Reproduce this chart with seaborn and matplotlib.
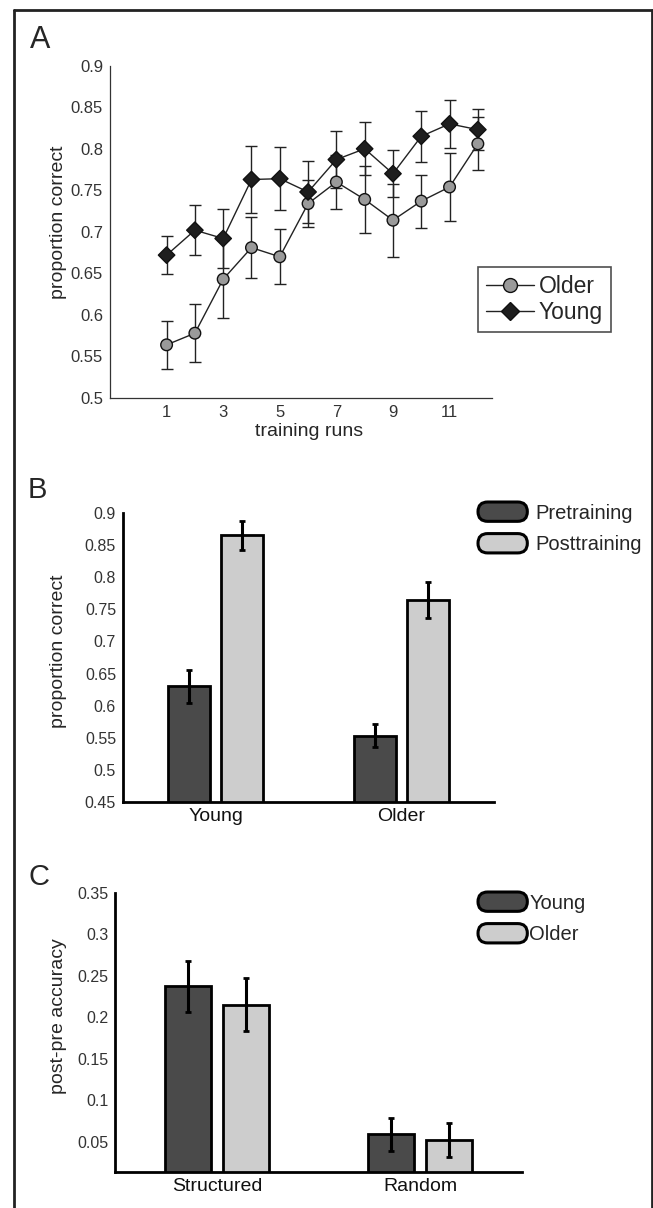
import matplotlib
matplotlib.use("Agg")
import matplotlib.pyplot as plt
import pandas as pd
import seaborn as sns
from matplotlib.lines import Line2D
from matplotlib.patches import Patch, FancyBboxPatch
from matplotlib.legend_handler import HandlerPatch
from matplotlib.ticker import FormatStrFormatter

# Panel A data: proportion correct per training run
runs = [1, 2, 3, 4, 5, 6, 7, 8, 9, 10, 11, 12]
older_mean = [0.564, 0.578, 0.643, 0.681, 0.670, 0.734, 0.760, 0.739, 0.714, 0.737, 0.754, 0.806]
older_err = [0.029, 0.035, 0.047, 0.037, 0.033, 0.028, 0.032, 0.040, 0.044, 0.032, 0.041, 0.032]
young_mean = [0.672, 0.702, 0.692, 0.763, 0.764, 0.748, 0.787, 0.800, 0.770, 0.815, 0.830, 0.823]
young_err = [0.023, 0.030, 0.036, 0.040, 0.038, 0.037, 0.034, 0.032, 0.028, 0.031, 0.029, 0.025]

# Panel B data: pre vs post training
groups_b = ["Young", "Older"]
pre_mean = [0.630, 0.553]
pre_err = [0.026, 0.018]
post_mean = [0.865, 0.764]
post_err = [0.022, 0.028]

# Panel C data: post-pre accuracy
groups_c = ["Structured", "Random"]
young_gain = [0.237, 0.059]
young_gain_err = [0.031, 0.020]
older_gain = [0.215, 0.052]
older_gain_err = [0.032, 0.020]

DARK = "#4a4a4a"
LIGHT = "#cdcdcd"

sns.set_style("white")
plt.rcParams["font.family"] = ["Liberation Sans", "DejaVu Sans"]

W, H = 653, 1208
fig = plt.figure(figsize=(W / 100, H / 100), dpi=100)


def rect(l, t, r, b):
    return [l / W, 1 - b / H, (r - l) / W, (b - t) / H]


def rounded(legend, orig_handle, xdescent, ydescent, width, height, fontsize):
    return FancyBboxPatch((-xdescent, -ydescent), width, height,
                          boxstyle="round,pad=0,rounding_size=%f" % (height / 2))


# ---------------- Panel A ----------------
axA = fig.add_axes(rect(110, 65.7, 492, 398))
df_a = pd.DataFrame({
    "run": runs * 2,
    "value": older_mean + young_mean,
    "group": ["Older"] * 12 + ["Young"] * 12,
})
axA.errorbar(runs, older_mean, yerr=older_err, fmt="none", ecolor="#222222",
             elinewidth=1, capsize=4.5, capthick=1, zorder=2)
axA.errorbar(runs, young_mean, yerr=young_err, fmt="none", ecolor="#222222",
             elinewidth=1, capsize=4.5, capthick=1, zorder=2)
sns.lineplot(data=df_a, x="run", y="value", hue="group",
             palette={"Older": "#222222", "Young": "#222222"},
             linewidth=1, legend=False, ax=axA, zorder=3)
sns.scatterplot(data=df_a, x="run", y="value", hue="group", style="group",
                markers={"Older": "o", "Young": "D"},
                palette={"Older": "#9a9a9a", "Young": "#1e1e1e"},
                s=70, edgecolor="#111111", linewidth=1, legend=False,
                ax=axA, zorder=4)
axA.set_xlim(-1, 12.5)
axA.set_ylim(0.5, 0.9)
axA.set_xticks([1, 3, 5, 7, 9, 11])
axA.set_yticks([0.5, 0.55, 0.6, 0.65, 0.7, 0.75, 0.8, 0.85, 0.9])
axA.yaxis.set_major_formatter(FormatStrFormatter("%g"))
sns.despine(ax=axA)
for s in ["left", "bottom"]:
    axA.spines[s].set_color("#333333")
    axA.spines[s].set_linewidth(0.9)
axA.tick_params(direction="in", length=4, width=0.9, color="#333333",
                labelsize=12, labelcolor="#333333", pad=5)
axA.set_xlabel("training runs", fontsize=14)
axA.set_ylabel("proportion correct", fontsize=14)
axA.xaxis.set_label_coords(0.521, -0.075)
axA.yaxis.set_label_coords(-0.112, 0.53)
handles_a = [
    Line2D([], [], color="#222222", lw=1, marker="o", markersize=10,
           markerfacecolor="#9a9a9a", markeredgecolor="#111111"),
    Line2D([], [], color="#222222", lw=1, marker="D", markersize=9,
           markerfacecolor="#1e1e1e", markeredgecolor="#111111"),
]
legA = axA.legend(handles_a, ["Older", "Young"], loc="upper left",
                  bbox_to_anchor=(478 / W, 1 - 267 / H), bbox_transform=fig.transFigure,
                  borderaxespad=0, fontsize=16.5, frameon=True, fancybox=False,
                  handlelength=2.1, handletextpad=0.2, borderpad=0.35,
                  labelspacing=0.12)
legA.get_frame().set_edgecolor("#222222")
legA.get_frame().set_linewidth(1.2)


def bar_panel(ax, cats, names, m1, e1, m2, e2, ylim, yticks, legend_top, pad_text):
    df = pd.DataFrame({
        "cat": cats * 2,
        "cond": [names[0]] * len(cats) + [names[1]] * len(cats),
        "value": m1 + m2,
    })
    sns.barplot(data=df, x="cat", y="value", hue="cond", order=cats,
                hue_order=names, palette=[DARK, LIGHT], edgecolor="black",
                linewidth=2, errorbar=None, width=0.572, gap=0.2,
                legend=False, ax=ax)
    for cont, means, errs in zip(ax.containers, [m1, m2], [e1, e2]):
        xs = [p.get_x() + p.get_width() / 2 for p in cont]
        ax.errorbar(xs, means, yerr=errs, fmt="none", ecolor="black",
                    elinewidth=2.2, capsize=2, capthick=2, zorder=5)
    ax.set_xlim(-0.5, 1.5)
    ax.set_ylim(*ylim)
    ax.set_yticks(yticks)
    ax.yaxis.set_major_formatter(FormatStrFormatter("%g"))
    sns.despine(ax=ax)
    for s in ["left", "bottom"]:
        ax.spines[s].set_color("black")
        ax.spines[s].set_linewidth(2)
    ax.tick_params(axis="y", length=0, labelsize=11.5, labelcolor="#333333", pad=5)
    ax.tick_params(axis="x", length=0, labelsize=14, labelcolor="#111111", pad=4)
    ax.set_xlabel("")
    handles = [Patch(facecolor=DARK, edgecolor="black", linewidth=2.2),
               Patch(facecolor=LIGHT, edgecolor="black", linewidth=2.2)]
    leg = ax.legend(handles, names, loc="upper left",
                    bbox_to_anchor=(478 / W, 1 - legend_top / H),
                    bbox_transform=fig.transFigure, borderaxespad=0,
                    frameon=False, fontsize=14.5, handlelength=2.45,
                    handleheight=1.1, handletextpad=pad_text, borderpad=0,
                    labelspacing=0.55,
                    handler_map={Patch: HandlerPatch(patch_func=rounded)})
    return leg


# ---------------- Panel B ----------------
axB = fig.add_axes(rect(123, 513, 494, 802))
bar_panel(axB, groups_b, ["Pretraining", "Posttraining"], pre_mean, pre_err,
          post_mean, post_err, (0.45, 0.9),
          [0.45, 0.5, 0.55, 0.6, 0.65, 0.7, 0.75, 0.8, 0.85, 0.9], 502, 0.4)
axB.set_ylabel("proportion correct", fontsize=14)
axB.yaxis.set_label_coords(-0.15, 0.52)

# ---------------- Panel C ----------------
axC = fig.add_axes(rect(115.4, 892.7, 521.7, 1172.3))
bar_panel(axC, groups_c, ["Young", "Older"], young_gain, young_gain_err,
          older_gain, older_gain_err, (0.013, 0.35),
          [0.05, 0.1, 0.15, 0.2, 0.25, 0.3, 0.35], 892, 0.1)
axC.set_ylabel("post-pre accuracy", fontsize=14)
axC.yaxis.set_label_coords(-0.118, 0.56)

# panel letters
fig.text(30 / W, 1 - 48 / H, "A", fontsize=22, va="baseline")
fig.text(28 / W, 1 - 498 / H, "B", fontsize=21, va="baseline")
fig.text(28 / W, 1 - 885 / H, "C", fontsize=21, va="baseline")

# frame around the figure (top, left, right)
fc = "#222222"
fig.add_artist(Line2D([14 / W, 652 / W], [1 - 10 / H, 1 - 10 / H], transform=fig.transFigure, color=fc, lw=2))
fig.add_artist(Line2D([14 / W, 14 / W], [0, 1 - 10 / H], transform=fig.transFigure, color=fc, lw=2))
fig.add_artist(Line2D([652 / W, 652 / W], [0, 1 - 10 / H], transform=fig.transFigure, color=fc, lw=2))

fig.savefig("out.png", dpi=100)
